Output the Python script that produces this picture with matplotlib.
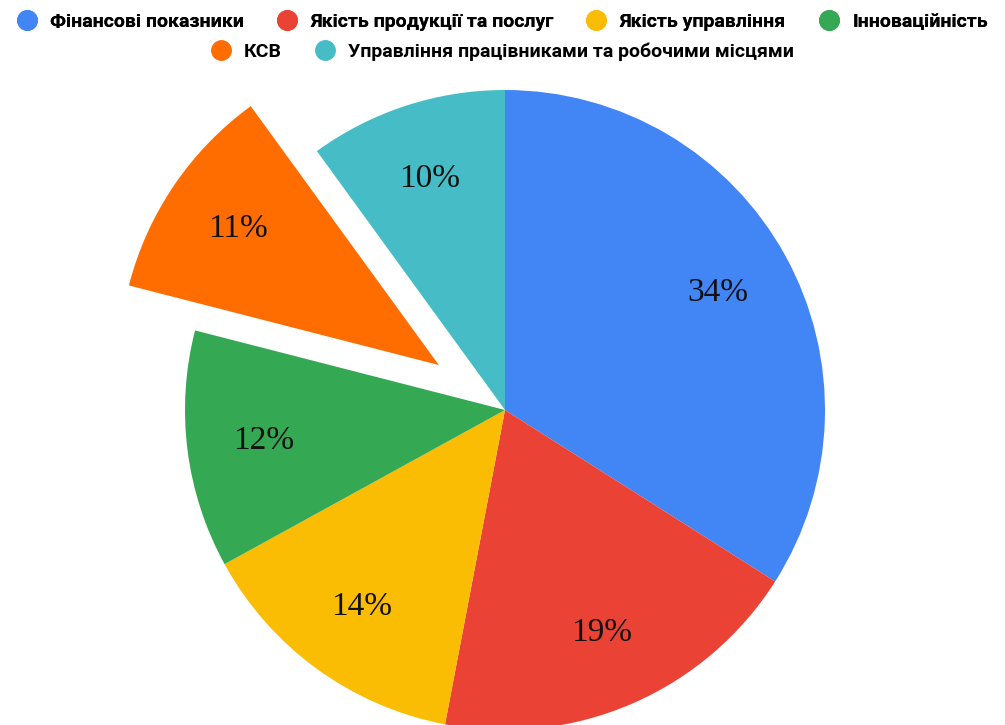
import matplotlib
matplotlib.use("Agg")
import matplotlib.pyplot as plt
from matplotlib.lines import Line2D

# дані діаграми
категорії = [
    "Фінансові показники",
    "Якість продукції та послуг",
    "Якість управління",
    "Інноваційність",
    "КСВ",
    "Управління працівниками та робочими місцями",
]
частки = [34, 19, 14, 12, 11, 10]
кольори = ["#4285F4", "#EA4335", "#FBBC04", "#34A853", "#FF6D01", "#46BDC6"]
винесення = [0, 0, 0, 0, 0.25, 0]

fig = plt.figure(figsize=(10.05, 7.25), dpi=100)
ax = fig.add_axes([0, 0, 1, 1])

wedges, texts, autotexts = ax.pie(
    частки,
    colors=кольори,
    explode=винесення,
    startangle=90,
    counterclock=False,
    radius=1.0,
    autopct="%d%%",
    pctdistance=0.76,
    textprops={"fontsize": 24, "family": "Liberation Serif", "color": "#111111"},
    wedgeprops={"linewidth": 0},
)

# 1 одиниця = 320 px, центр у (505, 410) від верхнього краю
r = 320
ax.set_xlim(-505 / r, 500 / r)
ax.set_ylim(-315 / r, 410 / r)
ax.set_aspect("auto")
ax.axis("off")

# легенда у два рядки, по центру
ручки = [
    Line2D([], [], marker="o", linestyle="", markersize=14,
           markerfacecolor=c, markeredgecolor=c)
    for c in кольори
]
шрифт = {"family": "Roboto", "weight": "bold", "size": 14}

leg1 = fig.legend(ручки[:4], категорії[:4], loc="center", ncol=4,
                  bbox_to_anchor=(0.5, 1 - 22 / 725), frameon=False,
                  prop=шрифт, handlelength=1.0, handletextpad=0.7,
                  columnspacing=1.7, borderpad=0)
leg2 = fig.legend(ручки[4:], категорії[4:], loc="center", ncol=2,
                  bbox_to_anchor=(0.5, 1 - 52 / 725), frameon=False,
                  prop=шрифт, handlelength=1.0, handletextpad=0.7,
                  columnspacing=1.7, borderpad=0)
fig.add_artist(leg1)

fig.savefig("out.png", dpi=100, facecolor="white")
